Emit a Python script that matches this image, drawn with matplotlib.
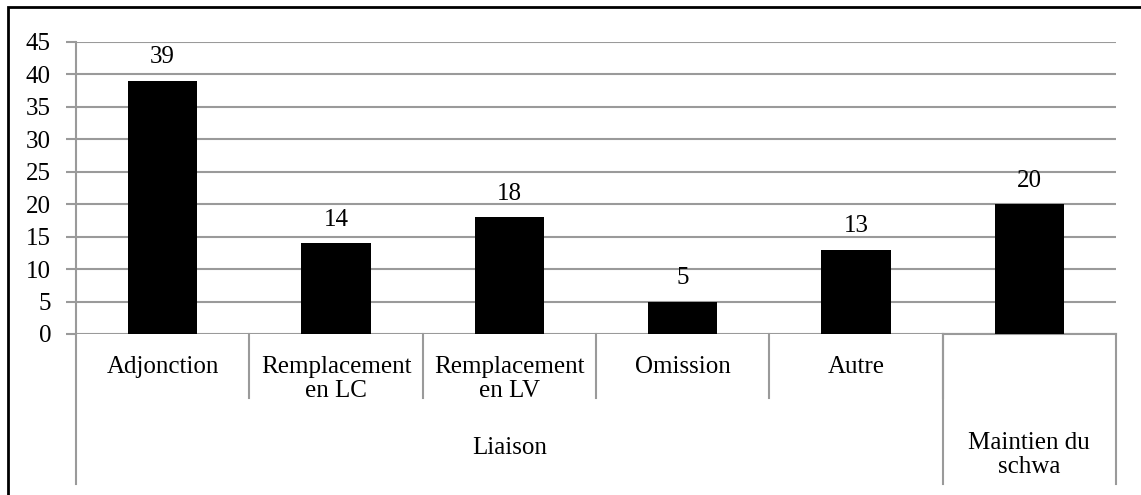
import matplotlib
matplotlib.use('Agg')
import matplotlib.pyplot as plt
from matplotlib.patches import Rectangle

# counts per error category
categories = ['Adjonction', 'Remplacement\nen LC', 'Remplacement\nen LV', 'Omission', 'Autre', 'Maintien du\nschwa']
values = [39, 14, 18, 5, 13, 20]
# top-level groups: (label, first index, last index + 1)
groups = [('Liaison', 0, 5), ('Maintien du\nschwa', 5, 6)]
yticks = list(range(0, 50, 5))

W, H = 1141, 495
fig = plt.figure(figsize=(W / 100, H / 100), dpi=100)
plt.rcParams['font.family'] = ['Liberation Serif', 'DejaVu Serif']
FS = 18

# pixel layout of the plot area
x0, x1, ytop, ybase = 76, 1116, 42, 334
ax = fig.add_axes([x0 / W, (H - ybase) / H, (x1 - x0) / W, (ybase - ytop) / H])

def yf(py):
    # pixel row -> axes fraction
    return (ybase - py) / (ybase - ytop)

grid_c = '#9a9a9a'
ax.set_xlim(0, len(categories))
ax.set_ylim(0, 45)
for v in yticks:
    ax.axhline(v, color=grid_c, lw=1.5, zorder=0)
ax.set_yticks(yticks)
ax.set_yticklabels([str(v) for v in yticks], fontsize=FS)
ax.tick_params(axis='y', length=7, width=1.5, color=grid_c, pad=11)
ax.set_xticks([])
for s in ['top', 'right', 'bottom']:
    ax.spines[s].set_visible(False)
ax.spines['left'].set_color(grid_c)
ax.spines['left'].set_linewidth(1.5)

xs = [i + 0.5 for i in range(len(categories))]
ax.bar(xs, values, width=0.4, color='black', zorder=3)
for x, v in zip(xs, values):
    ax.annotate(str(v), (x, v), xytext=(0, 9), textcoords='offset points',
                ha='center', va='bottom', fontsize=FS)

tr = ax.get_xaxis_transform()
# first-level category labels and separators
for i, lab in enumerate(categories[:5]):
    ax.text(i + 0.5, yf(356), lab, transform=tr, ha='center', va='top',
            fontsize=FS, linespacing=1.1, clip_on=False)
for i in range(1, 6):
    ax.plot([i, i], [0, yf(398)], transform=tr, color=grid_c, lw=1.5, clip_on=False)

# second-level group labels and separators
for lab, a, b in groups:
    yy = yf(448) if '\n' not in lab else yf(455)
    ax.text((a + b) / 2, yy, lab, transform=tr, ha='center', va='center',
            fontsize=FS, linespacing=1.1, clip_on=False)
for i in [0, 5, 6]:
    ax.plot([i, i], [0, yf(484)], transform=tr, color=grid_c, lw=1.5, clip_on=False)
ax.plot([5, 6], [0, 0], transform=tr, color=grid_c, lw=1.5, clip_on=False)

# outer frame (runs past the right and bottom edges)
fig.patches.append(Rectangle((8 / W, -0.05), 1.0, (H - 7) / H + 0.05,
                             transform=fig.transFigure, fill=False,
                             edgecolor='black', lw=2))

fig.savefig('out.png', dpi=100)
